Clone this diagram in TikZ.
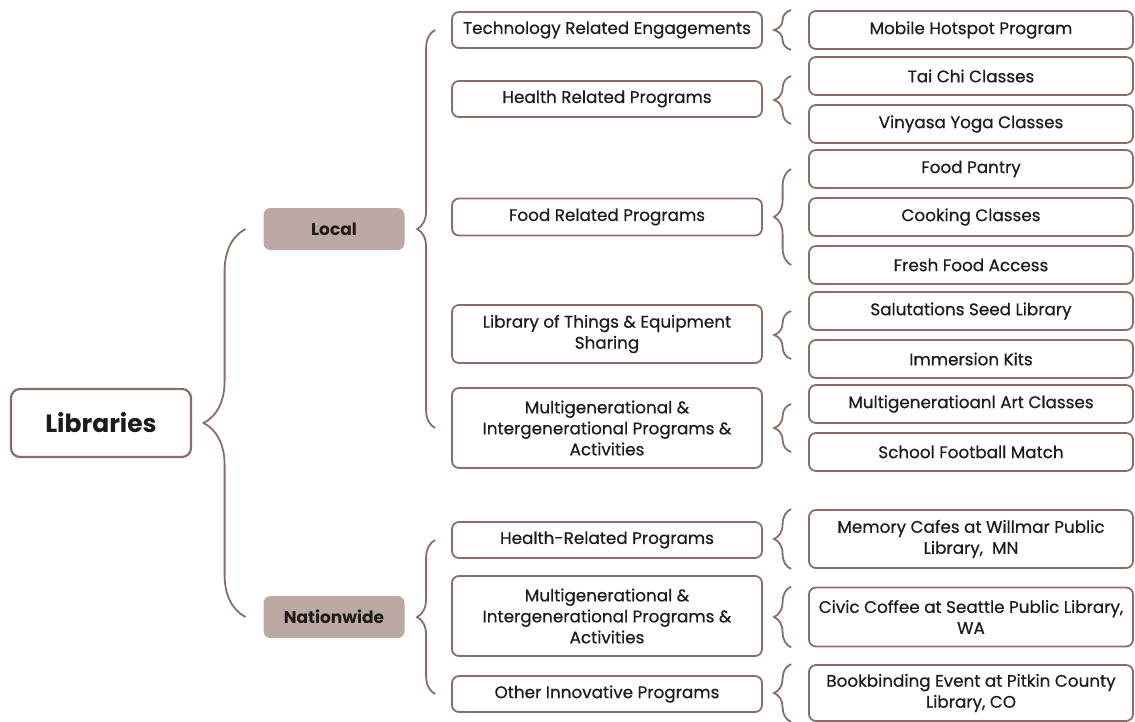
\documentclass[tikz,border=0pt]{standalone}
\usepackage{fontspec}
\setmainfont{Poppins}
\newfontfamily\medfont{Poppins}[FakeBold=0.6]
\usetikzlibrary{decorations.pathreplacing}
\definecolor{mocha}{HTML}{8A6D65}
\definecolor{latte}{HTML}{BDA9A3}
\definecolor{ink}{HTML}{1E1B1A}
\tikzset{
  box/.style={draw=mocha, line width=1.8pt, rounded corners=7pt, align=center,
    text=ink, inner sep=2pt, font=\medfont\fontsize{16.8}{21}\selectfont},
  midbox/.style={box, minimum width=310pt},
  leafbox/.style={box, minimum width=324pt},
  groupbox/.style={box, draw=none, fill=latte, minimum width=141pt, minimum height=42pt,
    font=\fontsize{17}{20}\selectfont\bfseries},
  brc/.style={draw=mocha, line width=1.8pt, decorate,
    decoration={brace, mirror, amplitude=#1}},
}
\begin{document}
\begin{tikzpicture}[x=1pt, y=-1pt]
  \useasboundingbox (0,0) rectangle (1135,721);

  % root and groups
  \node[box, line width=2.2pt, rounded corners=9pt, minimum width=180pt, minimum height=68pt,
    font=\fontsize{25}{30}\selectfont\bfseries] (lib) at (101,423) {Libraries};
  \node[groupbox] (local) at (334,229) {Local};
  \node[groupbox] (nation) at (334,617) {Nationwide};

  % local programs
  \node[midbox, minimum height=36pt] (tech) at (607,30) {Technology Related Engagements};
  \node[midbox, minimum height=36pt] (health) at (607,99) {Health Related Programs};
  \node[midbox, minimum height=37pt] (food) at (607,217) {Food Related Programs};
  \node[midbox, minimum height=58pt] (things) at (607,334) {Library of Things \& Equipment\\Sharing};
  \node[midbox, minimum height=80pt] (multi) at (607,428) {Multigenerational \&\\Intergenerational Programs \&\\Activities};

  % nationwide programs
  \node[midbox, minimum height=36pt] (nhealth) at (607,540) {Health-Related Programs};
  \node[midbox, minimum height=80pt] (nmulti) at (607,616) {Multigenerational \&\\Intergenerational Programs \&\\Activities};
  \node[midbox, minimum height=36pt] (other) at (607,694) {Other Innovative Programs};

  % examples
  \node[leafbox, minimum height=38pt] (hotspot) at (971,30) {Mobile Hotspot Program};
  \node[leafbox, minimum height=38pt] (taichi) at (971,76) {Tai Chi Classes};
  \node[leafbox, minimum height=38pt] (yoga) at (971,124) {Vinyasa Yoga Classes};
  \node[leafbox, minimum height=38pt] (pantry) at (971,169) {Food Pantry};
  \node[leafbox, minimum height=38pt] (cooking) at (971,217) {Cooking Classes};
  \node[leafbox, minimum height=38pt] (fresh) at (971,265) {Fresh Food Access};
  \node[leafbox, minimum height=38pt] (seed) at (971,311) {Salutations Seed Library};
  \node[leafbox, minimum height=38pt] (kits) at (971,359) {Immersion Kits};
  \node[leafbox, minimum height=38pt] (art) at (971,404) {Multigeneratioanl Art Classes};
  \node[leafbox, minimum height=38pt] (football) at (971,452) {School Football Match};
  \node[leafbox, minimum height=58pt] (memory) at (971,539) {Memory Cafes at Willmar Public\\Library,\ \ MN};
  \node[leafbox, minimum height=59pt] (civic) at (971,617) {Civic Coffee at Seattle Public Library,\\WA};
  \node[leafbox, minimum height=56pt] (bind) at (971,693) {Bookbinding Event at Pitkin County\\Library, CO};

  % braces
  \draw[brc=42pt] ([xshift=-17pt]local.west) -- ([xshift=-17pt]nation.west);
  \draw[brc=18pt] ([xshift=-16pt]tech.west) -- ([xshift=-16pt]multi.west);
  \draw[brc=18pt] ([xshift=-16pt]nhealth.west) -- ([xshift=-16pt]other.west);
  \draw[brc=17pt] ([xshift=-17pt]hotspot.north west) -- ([xshift=-17pt]hotspot.south west);
  \draw[brc=17pt] ([xshift=-17pt]taichi.west) -- ([xshift=-17pt]yoga.west);
  \draw[brc=17pt] ([xshift=-17pt]pantry.west) -- ([xshift=-17pt]fresh.west);
  \draw[brc=17pt] ([xshift=-17pt]seed.west) -- ([xshift=-17pt]kits.west);
  \draw[brc=17pt] ([xshift=-17pt]art.west) -- ([xshift=-17pt]football.west);
  \draw[brc=17pt] ([xshift=-17pt]memory.north west) -- ([xshift=-17pt]memory.south west);
  \draw[brc=17pt] ([xshift=-17pt]civic.north west) -- ([xshift=-17pt]civic.south west);
  \draw[brc=17pt] ([xshift=-17pt]bind.north west) -- ([xshift=-17pt]bind.south west);
\end{tikzpicture}
\end{document}
